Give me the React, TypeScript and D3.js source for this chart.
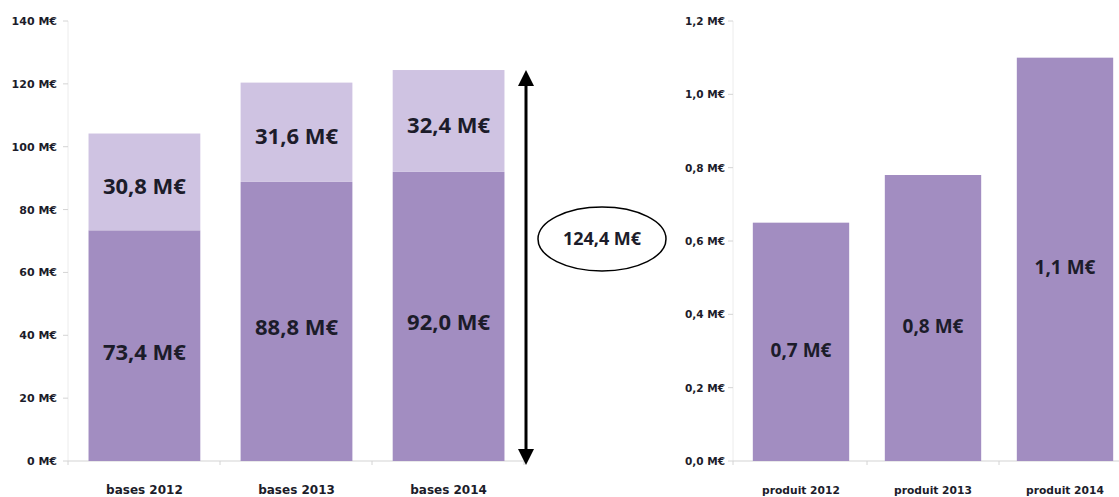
import React from "react";
import * as d3 from "d3";

const leftCategories = ["bases 2012", "bases 2013", "bases 2014"];
const baseDark = [73.4, 88.8, 92.0];
const baseLight = [30.8, 31.6, 32.4];
const leftTicks = [0, 20, 40, 60, 80, 100, 120, 140];

const rightCategories = ["produit 2012", "produit 2013", "produit 2014"];
const produit = [0.65, 0.78, 1.1];
const produitLabels = ["0,7 M€", "0,8 M€", "1,1 M€"];
const rightTicks = [0, 0.2, 0.4, 0.6, 0.8, 1.0, 1.2];

const DARK = "#a28dc1";
const LIGHT = "#cfc3e2";
const AXIS = "#d4d4d4";
const TEXT = "#1c1c2a";

const fmt1 = (v: number) => d3.format(".1f")(v).replace(".", ",");
const fmt0 = (v: number) => d3.format(".0f")(v);

export default function App() {
  const W = 1119, H = 497;
  const y0 = 461, yTop = 21;

  const xL = d3.scaleBand<string>().domain(leftCategories).range([68, 525]).paddingInner(0.265).paddingOuter(0.135);
  const yL = d3.scaleLinear().domain([0, 140]).range([y0, yTop]);

  const xR = d3.scaleBand<string>().domain(rightCategories).range([735, 1131]).paddingInner(0.27).paddingOuter(0.135);
  const yR = d3.scaleLinear().domain([0, 1.2]).range([y0, yTop]);

  const total = baseDark[2] + baseLight[2];
  const arrowX = 526;
  const arrowTop = yL(total);
  const arrowBot = y0 + 4;
  const ah = 16, aw = 8;

  const labelFont = "'Open Sans', sans-serif";
  const tickFont = "'DejaVu Sans', sans-serif";

  const rightTickXs = [733, ...rightCategories.slice(1).map((c, i) => (xR(rightCategories[i])! + xR.bandwidth() + xR(c)!) / 2)];

  return (
    <svg width={W} height={H} style={{ position: "absolute", left: 0, top: 0, background: "#fff" }}>
      {/* Left chart axes */}
      <line x1={68} x2={68} y1={yTop} y2={y0} stroke="#ececec" strokeWidth={1} />
      {leftTicks.map((t) => (
        <g key={"lt" + t}>
          <line x1={63} x2={68} y1={yL(t)} y2={yL(t)} stroke={AXIS} />
          <text x={57} y={yL(t) + 4} textAnchor="end" fontFamily={tickFont} fontWeight={700} fontSize={11} fill={TEXT}>
            {fmt0(t) + " M€"}
          </text>
        </g>
      ))}
      <line x1={68} x2={524} y1={y0} y2={y0} stroke={AXIS} strokeWidth={1.2} />
      {[0, 1, 2, 3].map((i) => {
        const x = 68 + i * ((524 - 68) / 3);
        return <line key={"lxt" + i} x1={x} x2={x} y1={y0} y2={y0 + 4} stroke={AXIS} />;
      })}

      {/* Left bars */}
      {leftCategories.map((c, i) => {
        const x = xL(c)!;
        const bw = xL.bandwidth();
        const d = baseDark[i];
        const l = baseLight[i];
        const cx = x + bw / 2;
        return (
          <g key={c}>
            <rect x={x} y={yL(d)} width={bw} height={y0 - yL(d)} fill={DARK} />
            <rect x={x} y={yL(d + l)} width={bw} height={yL(d) - yL(d + l)} fill={LIGHT} />
            <text x={cx} y={(yL(d) + y0) / 2 + 14} textAnchor="middle" fontFamily={labelFont} fontWeight={700} fontSize={22} fill={TEXT}>
              {fmt1(d) + " M€"}
            </text>
            <text x={cx} y={(yL(d + l) + yL(d)) / 2 + 12} textAnchor="middle" fontFamily={labelFont} fontWeight={700} fontSize={22} fill={TEXT}>
              {fmt1(l) + " M€"}
            </text>
            <text x={cx} y={494} textAnchor="middle" fontFamily={tickFont} fontWeight={700} fontSize={12} fill={TEXT}>
              {c}
            </text>
          </g>
        );
      })}

      {/* Double arrow */}
      <line x1={arrowX} x2={arrowX} y1={arrowTop + ah - 2} y2={arrowBot - ah + 2} stroke="#000" strokeWidth={3} />
      <polygon points={`${arrowX},${arrowTop} ${arrowX - aw},${arrowTop + ah} ${arrowX + aw},${arrowTop + ah}`} fill="#000" />
      <polygon points={`${arrowX},${arrowBot} ${arrowX - aw},${arrowBot - ah} ${arrowX + aw},${arrowBot - ah}`} fill="#000" />

      {/* Total ellipse */}
      <ellipse cx={602} cy={239} rx={64} ry={32} fill="#fff" stroke="#000" strokeWidth={1.5} />
      <text x={602} y={245} textAnchor="middle" fontFamily={labelFont} fontWeight={700} fontSize={18} fill={TEXT}>
        {fmt1(total) + " M€"}
      </text>

      {/* Right chart axes */}
      <line x1={733} x2={733} y1={yTop} y2={y0} stroke="#ececec" strokeWidth={1} />
      {rightTicks.map((t) => (
        <g key={"rt" + t}>
          <line x1={728} x2={733} y1={yR(t)} y2={yR(t)} stroke={AXIS} />
          <text x={725} y={yR(t) + 4} textAnchor="end" fontFamily={tickFont} fontWeight={700} fontSize={10.5} fill={TEXT}>
            {fmt1(t) + " M€"}
          </text>
        </g>
      ))}
      <line x1={733} x2={W} y1={y0} y2={y0} stroke={AXIS} strokeWidth={1.2} />
      {rightTickXs.map((xt, i) => (
        <line key={"rxt" + i} x1={xt} x2={xt} y1={y0} y2={y0 + 4} stroke={AXIS} />
      ))}

      {/* Right bars */}
      {rightCategories.map((c, i) => {
        const x = xR(c)!;
        const bw = xR.bandwidth();
        const v = produit[i];
        return (
          <g key={c}>
            <rect x={x} y={yR(v)} width={bw} height={y0 - yR(v)} fill={DARK} />
            <text x={x + bw / 2} y={(yR(v) + y0) / 2 + 15} textAnchor="middle" fontFamily={labelFont} fontWeight={700} fontSize={19} fill={TEXT}>
              {produitLabels[i]}
            </text>
            <text x={x + bw / 2} y={494} textAnchor="middle" fontFamily={tickFont} fontWeight={700} fontSize={10.7} fill={TEXT}>
              {c}
            </text>
          </g>
        );
      })}
    </svg>
  );
}
